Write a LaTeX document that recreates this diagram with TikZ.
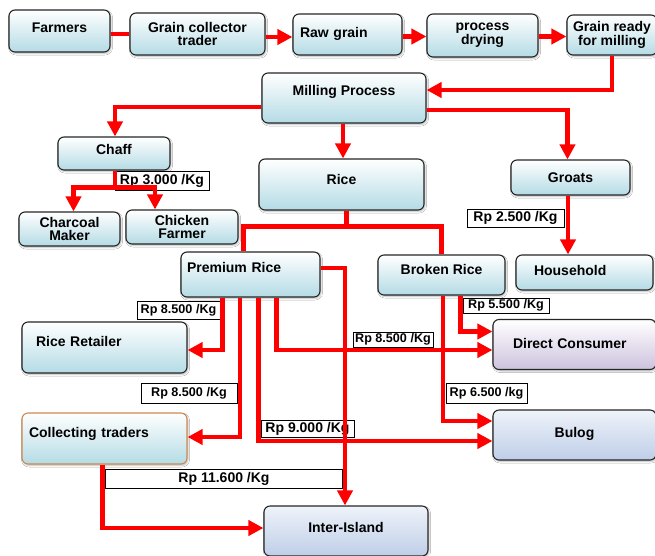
\documentclass[tikz,border=0pt]{standalone}
\usepackage{fontspec}
\setmainfont{Liberation Sans}
\usepackage{tikz}
\usetikzlibrary{arrows.meta,calc,shadows.blur}

\definecolor{stageblue}{RGB}{180,219,229}
\definecolor{buyerlilac}{RGB}{206,194,222}
\definecolor{buyerblue}{RGB}{190,206,232}
\definecolor{traderedge}{RGB}{204,138,80}
\definecolor{flowred}{RGB}{255,0,0}
\newcommand{\boxfont}{\fontsize{14}{12.5}\selectfont\bfseries}
\newcommand{\pricefont}{\fontsize{14}{14}\selectfont\bfseries}
\newcommand{\smallpricefont}{\fontsize{12.6}{12.6}\selectfont\bfseries}

\tikzset{
  stage/.style={draw=black!85, line width=1.1pt, rounded corners=6pt,
    top color=white, bottom color=stageblue, inner sep=0pt, align=center, font=\boxfont,
    blur shadow={shadow xshift=1pt, shadow yshift=-1.5pt, shadow blur radius=1.5pt, shadow opacity=25}},
  buyer/.style={stage, top color=buyerblue!25, bottom color=buyerblue},
  lilac/.style={stage, top color=white, bottom color=buyerlilac},
  lift/.style={text height=9.7pt, text depth=#1},
  price/.style={draw=black, line width=0.8pt, fill=white, inner sep=0pt, font=\pricefont},
  pricesm/.style={price, font=\smallpricefont},
  flow/.style={draw=flowred, line width=4.3pt, -{Triangle[length=15pt,width=15pt]}},
  link/.style={draw=flowred, line width=4.3pt},
}

\begin{document}
\begin{tikzpicture}[x=1pt, y=-1pt]
  \fill[white] (0,0) rectangle (655,555);
  \useasboundingbox (0,0) rectangle (655,555);

  % supply chain, top row
  \node[stage, minimum width=101pt, minimum height=42pt, lift=7pt] (farmers) at (59.5,31) {Farmers};
  \node[stage, minimum width=135pt, minimum height=42pt] (collector) at (197.5,34) {Grain collector\\trader};
  \node[stage, minimum width=109pt, minimum height=41pt, text width=95pt, align=left, lift=3pt] (raw) at (347.5,34.5) {Raw grain};
  \node[stage, minimum width=111pt, minimum height=43pt] (drying) at (482.5,35.5) {process\\drying};
  \node[stage, minimum width=90pt, minimum height=40pt] (ready) at (612,35) {Grain ready\\for milling};

  % milling and products
  \node[stage, minimum width=164pt, minimum height=50pt, lift=14pt] (milling) at (344,98) {Milling Process};
  \node[stage, minimum width=112pt, minimum height=33pt, lift=7pt] (chaff) at (114,153.5) {Chaff};
  \node[stage, minimum width=165pt, minimum height=51pt, lift=9pt] (rice) at (341.5,184.5) {Rice};
  \node[stage, minimum width=119pt, minimum height=35pt, lift=0pt] (groats) at (570.5,177.5) {Groats};
  \node[stage, minimum width=101pt, minimum height=34pt] (charcoal) at (69.5,229) {Charcoal\\Maker};
  \node[stage, minimum width=112pt, minimum height=34pt] (chicken) at (182,227) {Chicken\\Farmer};
  \node[stage, minimum width=139pt, minimum height=45pt, text width=127pt, align=left, lift=13pt] (prem) at (250.5,274.5) {Premium Rice};
  \node[stage, minimum width=127pt, minimum height=40pt, lift=10pt] (broken) at (441.5,275) {Broken Rice};
  \node[stage, minimum width=137pt, minimum height=35pt, text width=101pt, align=left, lift=3pt] (household) at (584.5,272.5) {Household};

  % buyers
  \node[stage, minimum width=165pt, minimum height=51pt, text width=137pt, align=left, lift=11pt] (retailer) at (104.5,347.5) {Rice Retailer};
  \node[lilac, minimum width=163pt, minimum height=50pt, text width=123pt, align=left, lift=1pt] (dc) at (574.5,344.5) {Direct Consumer};
  \node[stage, draw=traderedge, minimum width=165pt, minimum height=51pt, text width=151pt, align=left, lift=11pt] (traders) at (104.5,438.5) {Collecting traders};
  \node[buyer, minimum width=163pt, minimum height=50pt, lift=4pt] (bulog) at (574.5,435) {Bulog};
  \node[buyer, minimum width=164pt, minimum height=50pt, lift=7pt] (inter) at (346,531) {Inter-Island};

  % prices
  \node[price, minimum width=94pt, minimum height=19pt] (p3000) at (162,180.5) {Rp 3.000 /Kg};
  \node[price, minimum width=97pt, minimum height=18pt] (p2500) at (515.5,218) {Rp 2.500 /Kg};
  \node[pricesm, minimum width=83pt, minimum height=18pt] (p8500a) at (178.5,310) {Rp 8.500 /Kg};
  \node[pricesm, minimum width=96pt, minimum height=20pt] (p8500b) at (189,393) {Rp 8.500 /Kg};
  \node[pricesm, minimum width=80pt, minimum height=15pt] (p8500c) at (393,339.5) {Rp 8.500 /Kg};
  \node[pricesm, minimum width=86pt, minimum height=15pt] (p5500) at (506,305.5) {Rp 5.500 /Kg};
  \node[pricesm, minimum width=81pt, minimum height=20pt] (p6500) at (486.5,393) {Rp 6.500 /kg};
  \node[price, minimum width=93pt, minimum height=17pt] (p9000) at (307.5,428.5) {Rp 9.000 /Kg};
  \node[price, minimum width=237pt, minimum height=19pt] (p11600) at (224,479) {Rp 11.600 /Kg};

  % flows
  \draw[link] ([yshift=-3pt]farmers.east) -- (collector.west);
  \draw[flow] ([yshift=-3pt]collector.east) -- ([yshift=-2.5pt]raw.west);
  \draw[flow] ([yshift=-2pt]raw.east) -- ([yshift=-1pt]drying.west);
  \draw[flow] ([yshift=-1pt]drying.east) -- ([yshift=-1.5pt]ready.west);
  \draw[flow] (ready.south) |- ([yshift=8pt]milling.east);
  \draw[flow] ([yshift=-9pt]milling.west) -| ([xshift=1pt]chaff.north);
  \draw[flow] ([xshift=-1pt]milling.south) -- ([xshift=1.5pt]rice.north);
  \draw[flow] ([yshift=-12pt]milling.east) -| ([xshift=-3pt]groats.north);

  \coordinate (chaffsplit) at ([xshift=1pt, yshift=-17pt]chaff.south);
  \draw[flow] ([xshift=1pt]chaff.south) -- (chaffsplit) -| ([xshift=4pt]charcoal.north);
  \draw[flow] (chaffsplit) -| ([xshift=-27pt]chicken.north);

  \coordinate (ricesplit) at ([xshift=5pt, yshift=-16pt]rice.south);
  \draw[link] ([xshift=5pt]rice.south) -- (ricesplit) -| ([xshift=-7pt]prem.north);
  \draw[link] (ricesplit) -| (broken.north);

  \draw[flow] ([xshift=-2.5pt]groats.south) -- ([xshift=-16.5pt]household.north);

  \draw[flow] ([xshift=-28pt]prem.south) |- ([yshift=-2.5pt]retailer.east);
  \draw[flow] ([xshift=-10.5pt]prem.south) |- ([yshift=1.5pt]traders.east);
  \draw[flow] ([xshift=8pt]prem.south) |- ([yshift=-6pt]bulog.west);
  \draw[flow] ([xshift=26pt]prem.south) |- ([yshift=-5.5pt]dc.west);
  \draw[flow] ([yshift=6.5pt]prem.east) -| ([xshift=-1pt]inter.north);

  \draw[flow] ([xshift=1.5pt]broken.south) |- ([yshift=14pt]bulog.west);
  \draw[flow] ([xshift=19pt]broken.south) |- ([yshift=13pt]dc.west);

  \draw[flow] ([xshift=-2pt]traders.south) |- ([yshift=3pt]inter.west);
\end{tikzpicture}
\end{document}
